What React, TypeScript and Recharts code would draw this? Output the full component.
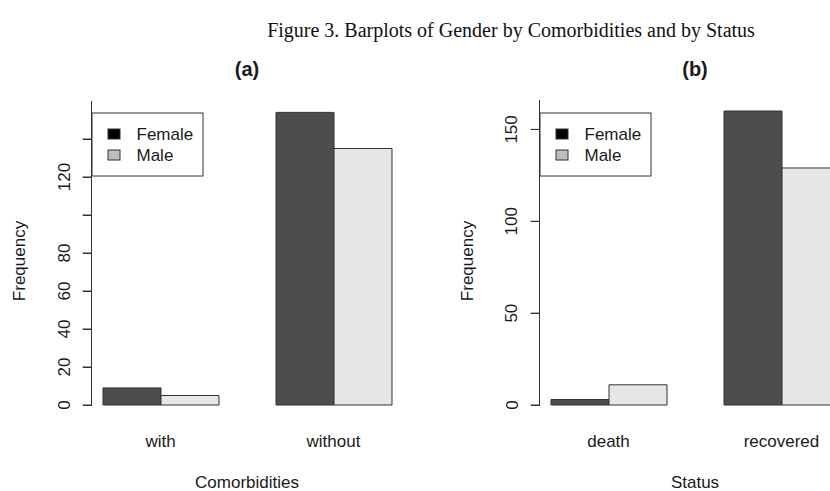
import { BarChart, Bar, XAxis, YAxis } from "recharts";

// panel (a): gender by comorbidities
const comorbidities = ["with", "without"];
const comorbFemale = [9, 154];
const comorbMale = [5, 135];
const ticksA = [0, 20, 40, 60, 80, 100, 120, 140];
const shownA = [0, 20, 40, 60, 80, 120];

// panel (b): gender by status
const statuses = ["death", "recovered"];
const statusFemale = [3, 160];
const statusMale = [11, 129];
const ticksB = [0, 50, 100, 150];
const shownB = [0, 50, 100, 150];

const legendNames = ["Female", "Male"];
const legendColors = ["#000000", "#bebebe"];

const SANS = "'Liberation Sans', Arial, sans-serif";
const INK = "#1a1a1a";
const TICK_SIZE = 9;
const TICK_MARGIN = 13;

// rotated y tick labels, R style (some labels are dropped, the tick stays)
const makeYTick = (shown: number[]) => (props: any) => {
  const x = Number(props.x);
  const y = Number(props.y);
  const value = Number(props.payload.value);
  const ax = Math.round(x + TICK_MARGIN + TICK_SIZE);
  const ly = Math.round(y);
  return (
    <g>
      <rect x={ax - TICK_SIZE} y={ly} width={TICK_SIZE} height={1} fill="#333" />
      {shown.includes(value) ? (
        <text
          x={x}
          y={y}
          transform={`rotate(-90, ${x}, ${y})`}
          textAnchor="middle"
          fontSize={17}
          fontFamily={SANS}
          fill={INK}
        >
          {value}
        </text>
      ) : null}
    </g>
  );
};

// built once so the axis gets a stable tick renderer
const yTickA = makeYTick(shownA);
const yTickB = makeYTick(shownB);

const XTick = (props: any) => {
  const { x, y, payload } = props;
  return (
    <text x={x} y={Number(y) + 42} textAnchor="middle" fontSize={17} fontFamily={SANS} fill={INK}>
      {payload.value}
    </text>
  );
};

// titles and legend box, in panel coordinates (plot area starts at x = 91.5)
const PanelDecor = ({ title, xTitle }: { title: string; xTitle: string }) => (
  <svg width={415} height={491} style={{ position: "absolute", left: 0, top: 0 }}>
    <text x={247} y={76} textAnchor="middle" fontSize={20} fontWeight="bold" fontFamily={SANS} fill={INK}>
      {title}
    </text>
    <text x={247} y={488} textAnchor="middle" fontSize={17} fontFamily={SANS} fill={INK}>
      {xTitle}
    </text>
    <text
      x={25}
      y={261}
      transform="rotate(-90, 25, 261)"
      textAnchor="middle"
      fontSize={17}
      fontFamily={SANS}
      fill={INK}
    >
      Frequency
    </text>
    <g transform="translate(91.5, 112.5)">
      <rect x={0.5} y={0.5} width={111} height={63} fill="#fff" stroke="#333" />
      {legendNames.map((name, i) => (
        <g key={name}>
          <rect x={16.5} y={16.5 + i * 21} width={12} height={10} fill={legendColors[i]} stroke="#333" />
          <text x={45} y={27 + i * 21} fontSize={17} fontFamily={SANS} fill={INK}>
            {name}
          </text>
        </g>
      ))}
    </g>
  </svg>
);

type PanelProps = {
  left: number;
  title: string;
  xTitle: string;
  categories: string[];
  female: number[];
  male: number[];
  ticks: number[];
  yTick: (props: any) => any;
  yMax: number;
  top: number;
};

const Panel = ({ left, title, xTitle, categories, female, male, ticks, yTick, yMax, top }: PanelProps) => {
  const data = categories.map((c, i) => ({ category: c, Female: female[i], Male: male[i] }));
  return (
    <div style={{ position: "absolute", left, top: 0, width: 415, height: 491 }}>
      <BarChart
        width={415}
        height={491}
        data={data}
        margin={{ top, right: 12.5, bottom: 46, left: 31.5 }}
        barGap={0}
        barCategoryGap={29}
      >
        <XAxis
          dataKey="category"
          axisLine={false}
          tickLine={false}
          tickSize={0}
          tickMargin={0}
          height={40}
          interval={0}
          padding={{ left: -17.5, right: -17.5 }}
          tick={XTick}
        />
        <YAxis
          domain={[0, yMax]}
          ticks={ticks}
          interval={0}
          stroke="#333"
          tickSize={TICK_SIZE}
          tickMargin={TICK_MARGIN}
          width={60}
          tick={yTick}
        />
        <Bar dataKey="Female" fill="#4d4d4d" stroke="#333" isAnimationActive={false} />
        <Bar dataKey="Male" fill="#e6e6e6" stroke="#333" isAnimationActive={false} />
      </BarChart>
      <PanelDecor title={title} xTitle={xTitle} />
    </div>
  );
};

export default function App() {
  return (
    <div
      style={{
        position: "absolute",
        left: 0,
        top: 0,
        width: 830,
        height: 491,
        overflow: "hidden",
        background: "#ffffff",
      }}
    >
      <div
        style={{
          position: "absolute",
          left: 0,
          top: 20,
          width: 1022,
          textAlign: "center",
          fontFamily: "'Liberation Serif', 'Times New Roman', serif",
          fontSize: 20,
          lineHeight: "20px",
          color: "#111",
          whiteSpace: "nowrap",
        }}
      >
        Figure 3. Barplots of Gender by Comorbidities and by Status
      </div>
      <Panel
        left={0}
        title="(a)"
        xTitle="Comorbidities"
        categories={comorbidities}
        female={comorbFemale}
        male={comorbMale}
        ticks={ticksA}
        yTick={yTickA}
        yMax={160}
        top={101}
      />
      <Panel
        left={448}
        title="(b)"
        xTitle="Status"
        categories={statuses}
        female={statusFemale}
        male={statusMale}
        ticks={ticksB}
        yTick={yTickB}
        yMax={166}
        top={100}
      />
    </div>
  );
}
